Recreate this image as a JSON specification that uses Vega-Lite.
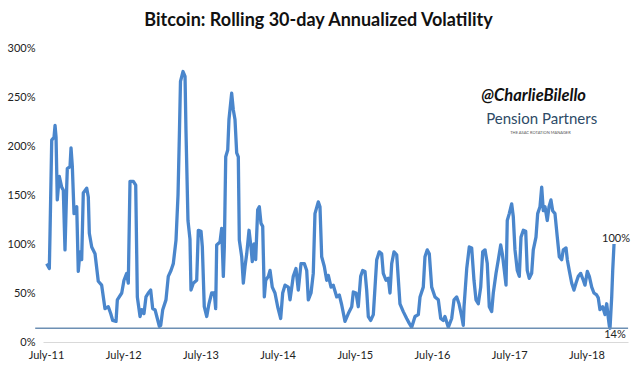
{
  "$schema": "https://vega.github.io/schema/vega-lite/v6.json",
  "width": 585,
  "height": 294,
  "autosize": {"type": "none"},
  "padding": {"left": 43, "top": 48, "right": 7, "bottom": 33},
  "background": "white",
  "config": {"view": {"stroke": null}, "font": "Lato"},
  "title": {"text": "Bitcoin: Rolling 30-day Annualized Volatility", "font": "Lato", "fontSize": 18, "fontWeight": "bold", "color": "#111111", "anchor": "middle", "dx": -17, "offset": 12},
  "datasets": {
    "vol": [
      {"t": 2011.509, "v": 80}, {"t": 2011.543, "v": 75}, {"t": 2011.552, "v": 111}, {"t": 2011.574, "v": 206},
      {"t": 2011.604, "v": 209}, {"t": 2011.617, "v": 221}, {"t": 2011.630, "v": 209}, {"t": 2011.646, "v": 145},
      {"t": 2011.672, "v": 169}, {"t": 2011.703, "v": 158}, {"t": 2011.724, "v": 155}, {"t": 2011.746, "v": 94},
      {"t": 2011.768, "v": 158}, {"t": 2011.776, "v": 177}, {"t": 2011.811, "v": 179}, {"t": 2011.824, "v": 198},
      {"t": 2011.841, "v": 179}, {"t": 2011.863, "v": 131}, {"t": 2011.898, "v": 138}, {"t": 2011.918, "v": 72},
      {"t": 2011.940, "v": 92}, {"t": 2011.962, "v": 84}, {"t": 2011.983, "v": 152}, {"t": 2012.027, "v": 157},
      {"t": 2012.048, "v": 148}, {"t": 2012.061, "v": 111}, {"t": 2012.092, "v": 97}, {"t": 2012.135, "v": 90},
      {"t": 2012.177, "v": 62}, {"t": 2012.221, "v": 58}, {"t": 2012.264, "v": 34}, {"t": 2012.307, "v": 36},
      {"t": 2012.338, "v": 29}, {"t": 2012.364, "v": 22}, {"t": 2012.407, "v": 21}, {"t": 2012.424, "v": 43},
      {"t": 2012.481, "v": 50}, {"t": 2012.510, "v": 63}, {"t": 2012.545, "v": 70}, {"t": 2012.566, "v": 60},
      {"t": 2012.588, "v": 164}, {"t": 2012.631, "v": 164}, {"t": 2012.662, "v": 160}, {"t": 2012.683, "v": 46},
      {"t": 2012.718, "v": 26}, {"t": 2012.740, "v": 33}, {"t": 2012.769, "v": 29}, {"t": 2012.795, "v": 46},
      {"t": 2012.825, "v": 50}, {"t": 2012.856, "v": 53}, {"t": 2012.882, "v": 34}, {"t": 2012.912, "v": 33},
      {"t": 2012.942, "v": 24}, {"t": 2012.968, "v": 16}, {"t": 2012.986, "v": 17}, {"t": 2013.012, "v": 33},
      {"t": 2013.054, "v": 43}, {"t": 2013.084, "v": 67}, {"t": 2013.119, "v": 73}, {"t": 2013.149, "v": 80},
      {"t": 2013.184, "v": 104}, {"t": 2013.210, "v": 150}, {"t": 2013.229, "v": 216}, {"t": 2013.242, "v": 266},
      {"t": 2013.275, "v": 276}, {"t": 2013.301, "v": 271}, {"t": 2013.313, "v": 216}, {"t": 2013.339, "v": 124},
      {"t": 2013.365, "v": 105}, {"t": 2013.378, "v": 53}, {"t": 2013.408, "v": 60}, {"t": 2013.452, "v": 63},
      {"t": 2013.473, "v": 114}, {"t": 2013.508, "v": 113}, {"t": 2013.525, "v": 97}, {"t": 2013.550, "v": 36},
      {"t": 2013.582, "v": 26}, {"t": 2013.611, "v": 39}, {"t": 2013.646, "v": 50}, {"t": 2013.680, "v": 50},
      {"t": 2013.698, "v": 34}, {"t": 2013.711, "v": 99}, {"t": 2013.754, "v": 102}, {"t": 2013.776, "v": 116},
      {"t": 2013.797, "v": 67}, {"t": 2013.810, "v": 97}, {"t": 2013.828, "v": 189}, {"t": 2013.854, "v": 196},
      {"t": 2013.870, "v": 227}, {"t": 2013.905, "v": 254}, {"t": 2013.926, "v": 237}, {"t": 2013.948, "v": 227},
      {"t": 2013.970, "v": 193}, {"t": 2013.991, "v": 189}, {"t": 2014.004, "v": 104}, {"t": 2014.035, "v": 87},
      {"t": 2014.056, "v": 60}, {"t": 2014.078, "v": 77}, {"t": 2014.100, "v": 90}, {"t": 2014.130, "v": 114},
      {"t": 2014.155, "v": 97}, {"t": 2014.172, "v": 82}, {"t": 2014.194, "v": 100}, {"t": 2014.216, "v": 84},
      {"t": 2014.242, "v": 135}, {"t": 2014.263, "v": 138}, {"t": 2014.285, "v": 121}, {"t": 2014.307, "v": 118},
      {"t": 2014.328, "v": 46}, {"t": 2014.346, "v": 63}, {"t": 2014.380, "v": 67}, {"t": 2014.402, "v": 73},
      {"t": 2014.431, "v": 56}, {"t": 2014.466, "v": 50}, {"t": 2014.501, "v": 36}, {"t": 2014.540, "v": 24},
      {"t": 2014.566, "v": 50}, {"t": 2014.596, "v": 58}, {"t": 2014.639, "v": 56}, {"t": 2014.661, "v": 43},
      {"t": 2014.703, "v": 67}, {"t": 2014.738, "v": 75}, {"t": 2014.768, "v": 53}, {"t": 2014.803, "v": 80},
      {"t": 2014.846, "v": 80}, {"t": 2014.877, "v": 73}, {"t": 2014.898, "v": 43}, {"t": 2014.933, "v": 50},
      {"t": 2014.962, "v": 70}, {"t": 2014.984, "v": 131}, {"t": 2015.027, "v": 143}, {"t": 2015.049, "v": 138},
      {"t": 2015.071, "v": 87}, {"t": 2015.105, "v": 77}, {"t": 2015.136, "v": 63}, {"t": 2015.157, "v": 68},
      {"t": 2015.192, "v": 56}, {"t": 2015.221, "v": 58}, {"t": 2015.266, "v": 46}, {"t": 2015.299, "v": 48},
      {"t": 2015.330, "v": 38}, {"t": 2015.373, "v": 21}, {"t": 2015.416, "v": 29}, {"t": 2015.460, "v": 36},
      {"t": 2015.481, "v": 51}, {"t": 2015.516, "v": 50}, {"t": 2015.545, "v": 36}, {"t": 2015.576, "v": 67},
      {"t": 2015.602, "v": 73}, {"t": 2015.632, "v": 72}, {"t": 2015.654, "v": 53}, {"t": 2015.675, "v": 26},
      {"t": 2015.706, "v": 22}, {"t": 2015.740, "v": 28}, {"t": 2015.784, "v": 84}, {"t": 2015.817, "v": 92},
      {"t": 2015.848, "v": 90}, {"t": 2015.869, "v": 70}, {"t": 2015.904, "v": 63}, {"t": 2015.934, "v": 65},
      {"t": 2015.956, "v": 50}, {"t": 2015.978, "v": 80}, {"t": 2016.008, "v": 92}, {"t": 2016.043, "v": 89},
      {"t": 2016.085, "v": 39}, {"t": 2016.128, "v": 31}, {"t": 2016.172, "v": 24}, {"t": 2016.206, "v": 19},
      {"t": 2016.237, "v": 15}, {"t": 2016.280, "v": 26}, {"t": 2016.323, "v": 28}, {"t": 2016.345, "v": 46},
      {"t": 2016.387, "v": 56}, {"t": 2016.409, "v": 87}, {"t": 2016.439, "v": 94}, {"t": 2016.465, "v": 90},
      {"t": 2016.496, "v": 56}, {"t": 2016.539, "v": 46}, {"t": 2016.582, "v": 43}, {"t": 2016.613, "v": 24},
      {"t": 2016.646, "v": 22}, {"t": 2016.668, "v": 26}, {"t": 2016.711, "v": 15}, {"t": 2016.755, "v": 24},
      {"t": 2016.785, "v": 43}, {"t": 2016.820, "v": 46}, {"t": 2016.850, "v": 39}, {"t": 2016.885, "v": 26},
      {"t": 2016.905, "v": 17}, {"t": 2016.915, "v": 36}, {"t": 2016.950, "v": 75}, {"t": 2016.983, "v": 97},
      {"t": 2017.014, "v": 96}, {"t": 2017.044, "v": 63}, {"t": 2017.070, "v": 43}, {"t": 2017.100, "v": 39},
      {"t": 2017.131, "v": 56}, {"t": 2017.157, "v": 92}, {"t": 2017.187, "v": 94}, {"t": 2017.216, "v": 80},
      {"t": 2017.242, "v": 36}, {"t": 2017.273, "v": 31}, {"t": 2017.294, "v": 50}, {"t": 2017.329, "v": 70},
      {"t": 2017.359, "v": 84}, {"t": 2017.390, "v": 99}, {"t": 2017.411, "v": 90}, {"t": 2017.437, "v": 73},
      {"t": 2017.459, "v": 58}, {"t": 2017.475, "v": 124}, {"t": 2017.501, "v": 131}, {"t": 2017.532, "v": 141},
      {"t": 2017.553, "v": 128}, {"t": 2017.575, "v": 94}, {"t": 2017.605, "v": 73}, {"t": 2017.631, "v": 67},
      {"t": 2017.653, "v": 107}, {"t": 2017.683, "v": 114}, {"t": 2017.714, "v": 113}, {"t": 2017.734, "v": 73},
      {"t": 2017.760, "v": 65}, {"t": 2017.791, "v": 70}, {"t": 2017.812, "v": 94}, {"t": 2017.847, "v": 107},
      {"t": 2017.869, "v": 131}, {"t": 2017.899, "v": 138}, {"t": 2017.921, "v": 158}, {"t": 2017.942, "v": 134},
      {"t": 2017.964, "v": 138}, {"t": 2017.993, "v": 124}, {"t": 2018.016, "v": 138}, {"t": 2018.041, "v": 145},
      {"t": 2018.063, "v": 134}, {"t": 2018.093, "v": 131}, {"t": 2018.123, "v": 107}, {"t": 2018.149, "v": 87},
      {"t": 2018.180, "v": 84}, {"t": 2018.201, "v": 94}, {"t": 2018.236, "v": 96}, {"t": 2018.253, "v": 84},
      {"t": 2018.278, "v": 73}, {"t": 2018.310, "v": 60}, {"t": 2018.339, "v": 53}, {"t": 2018.365, "v": 60},
      {"t": 2018.395, "v": 67}, {"t": 2018.426, "v": 70}, {"t": 2018.460, "v": 63}, {"t": 2018.482, "v": 58},
      {"t": 2018.512, "v": 72}, {"t": 2018.538, "v": 67}, {"t": 2018.569, "v": 56}, {"t": 2018.598, "v": 50},
      {"t": 2018.633, "v": 48}, {"t": 2018.654, "v": 45}, {"t": 2018.676, "v": 33}, {"t": 2018.711, "v": 36},
      {"t": 2018.741, "v": 28}, {"t": 2018.763, "v": 39}, {"t": 2018.785, "v": 24}, {"t": 2018.798, "v": 16},
      {"t": 2018.806, "v": 14}, {"t": 2018.828, "v": 46}, {"t": 2018.841, "v": 73}, {"t": 2018.858, "v": 100}
    ],
    "floor": [{"t": 2011.36, "t2": 2019.04, "v": 14}],
    "last": [{"t": 2018.858, "v": 100, "label": "100%"}],
    "low": [{"t": 2018.806, "v": 14, "label": "14%"}],
    "handle": [{"t": 2017.817, "v": 251, "label": "@CharlieBilello"}],
    "brand": [{"t": 2017.921, "v": 228, "label": "Pension Partners"}],
    "tag": [{"t": 2017.905, "v": 213.5, "label": "THE ASAC ROTATION MANAGER"}]
  },
  "layer": [
    {
      "data": {"name": "vol"},
      "mark": {"type": "line", "color": "#4a86cc", "strokeWidth": 3.3, "strokeJoin": "round"},
      "encoding": {
        "x": {
          "field": "t", "type": "quantitative",
          "scale": {"domain": [2011.461, 2019.039], "nice": false, "zero": false},
          "axis": {
            "values": [2011.5, 2012.5, 2013.5, 2014.5, 2015.5, 2016.5, 2017.5, 2018.5],
            "labelExpr": "'July-' + (floor(datum.value) - 2000)",
            "title": null, "grid": false, "ticks": false,
            "domain": true, "domainColor": "#d9d9d9", "domainWidth": 1,
            "labelPadding": 7, "labelFontSize": 11, "labelColor": "#222222", "labelFont": "Lato",
            "labelFlush": false, "labelOverlap": false
          }
        },
        "y": {
          "field": "v", "type": "quantitative",
          "scale": {"domain": [0, 300], "nice": false},
          "axis": {
            "values": [0, 50, 100, 150, 200, 250, 300],
            "labelExpr": "datum.value + '%'",
            "title": null, "grid": false, "ticks": false, "domain": false,
            "labelPadding": 8, "labelFontSize": 11, "labelColor": "#222222", "labelFont": "Lato"
          }
        }
      }
    },
    {
      "data": {"name": "floor"},
      "mark": {"type": "rule", "color": "#6d8fb3", "strokeWidth": 1.5},
      "encoding": {
        "x": {"field": "t", "type": "quantitative"},
        "x2": {"field": "t2"},
        "y": {"field": "v", "type": "quantitative"}
      }
    },
    {
      "data": {"name": "last"},
      "mark": {"type": "text", "font": "Lato", "fontSize": 11, "color": "#222222", "dx": 2, "dy": -5, "align": "center", "baseline": "middle"},
      "encoding": {"x": {"field": "t", "type": "quantitative"}, "y": {"field": "v", "type": "quantitative"}, "text": {"field": "label"}}
    },
    {
      "data": {"name": "low"},
      "mark": {"type": "text", "font": "Lato", "fontSize": 11, "color": "#222222", "dx": 5, "dy": 7, "align": "center", "baseline": "middle"},
      "encoding": {"x": {"field": "t", "type": "quantitative"}, "y": {"field": "v", "type": "quantitative"}, "text": {"field": "label"}}
    },
    {
      "data": {"name": "handle"},
      "mark": {"type": "text", "font": "Lato", "fontSize": 16.5, "fontWeight": "bold", "fontStyle": "italic", "color": "#111111", "align": "center", "baseline": "middle"},
      "encoding": {"x": {"field": "t", "type": "quantitative"}, "y": {"field": "v", "type": "quantitative"}, "text": {"field": "label"}}
    },
    {
      "data": {"name": "brand"},
      "mark": {"type": "text", "font": "Lato", "fontSize": 15, "fontWeight": "normal", "color": "#2d4a66", "align": "center", "baseline": "middle"},
      "encoding": {"x": {"field": "t", "type": "quantitative"}, "y": {"field": "v", "type": "quantitative"}, "text": {"field": "label"}}
    },
    {
      "data": {"name": "tag"},
      "mark": {"type": "text", "font": "Lato", "fontSize": 4, "color": "#555555", "align": "center", "baseline": "middle"},
      "encoding": {"x": {"field": "t", "type": "quantitative"}, "y": {"field": "v", "type": "quantitative"}, "text": {"field": "label"}}
    }
  ]
}
